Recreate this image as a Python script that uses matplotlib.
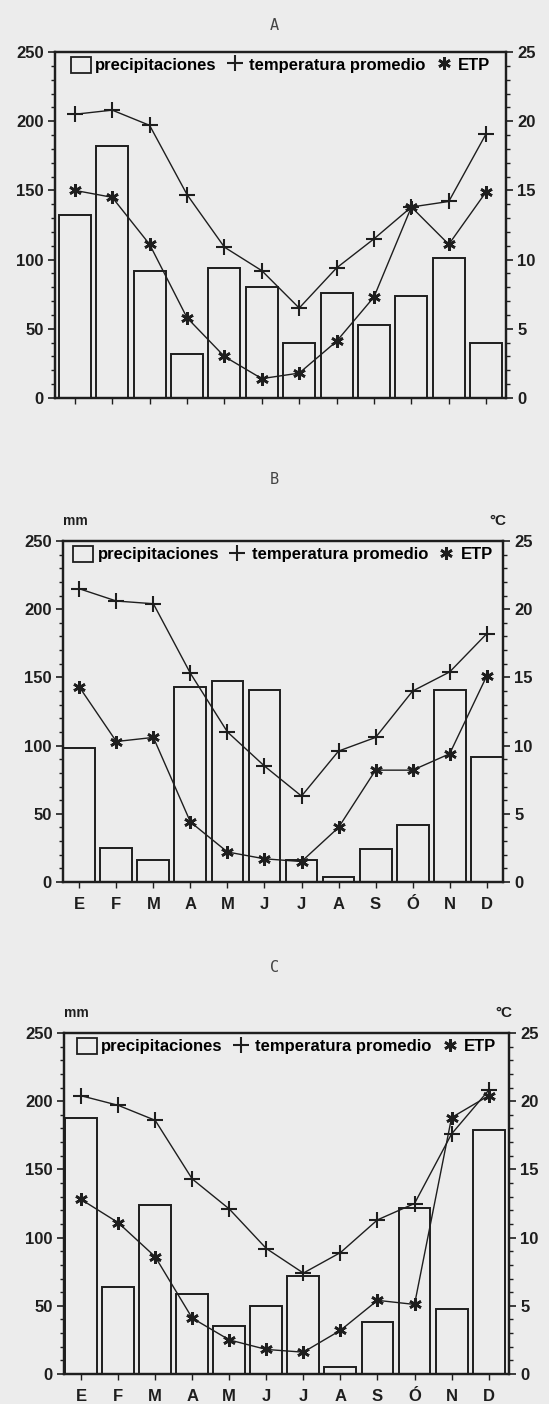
import matplotlib.pyplot as plt
from matplotlib.lines import Line2D
from matplotlib.patches import Patch
from matplotlib.ticker import MultipleLocator

# monthly values (mm and deg C)
months = ["E", "F", "M", "A", "M", "J", "J", "A", "S", "Ó", "N", "D"]

prec_a = [132, 182, 92, 32, 94, 80, 40, 76, 53, 74, 101, 40]
temp_a = [20.5, 20.8, 19.7, 14.7, 10.9, 9.2, 6.5, 9.4, 11.5, 13.8, 14.2, 19.1]
etp_a = [15.0, 14.5, 11.1, 5.8, 3.0, 1.4, 1.8, 4.1, 7.3, 13.8, 11.1, 14.9]

prec_b = [98, 25, 16, 143, 147, 141, 16, 4, 24, 42, 141, 92]
temp_b = [21.5, 20.6, 20.4, 15.3, 11.0, 8.5, 6.3, 9.6, 10.6, 14.0, 15.4, 18.2]
etp_b = [14.3, 10.3, 10.6, 4.4, 2.2, 1.7, 1.5, 4.0, 8.2, 8.2, 9.4, 15.1]

prec_c = [188, 64, 124, 59, 35, 50, 72, 5, 38, 122, 48, 179]
temp_c = [20.4, 19.7, 18.6, 14.3, 12.1, 9.2, 7.4, 8.9, 11.3, 12.5, 17.6, 20.8]
etp_c = [12.8, 11.1, 8.6, 4.1, 2.5, 1.8, 1.6, 3.2, 5.4, 5.1, 18.8, 20.4]

bg = "#ececec"
ink = "#1e1e1e"
fnt = "Liberation Sans"

fig = plt.figure(figsize=(5.49, 14.04), dpi=100, facecolor=bg)


def panel(rect, prec, temp, etp, xlim, letter, letter_y, show_months):
    ax = fig.add_axes(rect)
    ax.set_facecolor(bg)
    x = list(range(len(prec)))
    ax.bar(x, prec, width=0.86, color=bg, edgecolor=ink, linewidth=1.4, zorder=2)
    ax.set_ylim(0, 250)
    ax.set_xlim(*xlim)
    ax.yaxis.set_major_locator(MultipleLocator(50))
    ax.yaxis.set_minor_locator(MultipleLocator(10))

    ax2 = ax.twinx()
    ax2.set_ylim(0, 25)
    ax2.yaxis.set_major_locator(MultipleLocator(5))
    ax2.yaxis.set_minor_locator(MultipleLocator(1))
    ax2.plot(x, temp, color=ink, lw=1.0, marker="+", ms=11, mew=1.5, zorder=3)
    ax2.plot(x, etp, color=ink, lw=1.0, marker=(6, 2, 0), ms=9, mew=1.9, zorder=3)

    for a in (ax, ax2):
        for s in a.spines.values():
            s.set_linewidth(1.6)
            s.set_color(ink)
        a.tick_params(which="major", length=5, width=1.2, colors=ink,
                      labelsize=12, pad=3)
        a.tick_params(which="minor", length=3, width=1.0, colors=ink)
        for lab in a.get_yticklabels():
            lab.set_fontweight("bold")
            lab.set_family(fnt)

    ax.set_xticks(x)
    ax.tick_params(axis="x", length=4, width=1.0)
    if show_months:
        ax.set_xticklabels(months, fontsize=12, fontweight="bold", family=fnt)
        ax.tick_params(axis="x", pad=7)
    else:
        ax.set_xticklabels([])

    handles = [
        Patch(facecolor=bg, edgecolor=ink, linewidth=1.3),
        Line2D([], [], color=ink, lw=0, marker="+", ms=11, mew=1.5),
        Line2D([], [], color=ink, lw=0, marker=(6, 2, 0), ms=9, mew=1.9),
    ]
    ax2.legend(handles, ["precipitaciones", "temperatura promedio", "ETP"],
               loc="upper center", ncol=3, frameon=False,
               bbox_to_anchor=(0.5, 1.03), handlelength=1.2, handleheight=1.1,
               handletextpad=0.25, columnspacing=0.5,
               prop={"family": fnt, "weight": "bold", "size": 12})

    pos = ax.get_position()
    fig.text(0.5, letter_y, letter, ha="center", va="center", fontsize=11,
             family="DejaVu Sans Mono", color="#444444")
    if show_months:
        top = pos.y1 + 20 / 1404
        fig.text(pos.x0, top, "mm", fontsize=10, fontweight="bold",
                 family=fnt, color=ink, ha="left", va="center")
        fig.text(pos.x1 - 14 / 549, top, "°C", fontsize=11, fontweight="bold",
                 family=fnt, color=ink, ha="left", va="center")
    return ax


panel([55 / 549, 1 - 398 / 1404, 451 / 549, 346 / 1404],
      prec_a, temp_a, etp_a, (-0.53, 11.53), "A", 1 - 25 / 1404, False)
panel([63 / 549, 1 - 882 / 1404, 440 / 549, 341 / 1404],
      prec_b, temp_b, etp_b, (-0.44, 11.44), "B", 1 - 480 / 1404, True)
panel([64 / 549, 1 - 1374 / 1404, 445 / 549, 341 / 1404],
      prec_c, temp_c, etp_c, (-0.46, 11.55), "C", 1 - 968 / 1404, True)

fig.savefig("out.png", dpi=100, facecolor=bg)
